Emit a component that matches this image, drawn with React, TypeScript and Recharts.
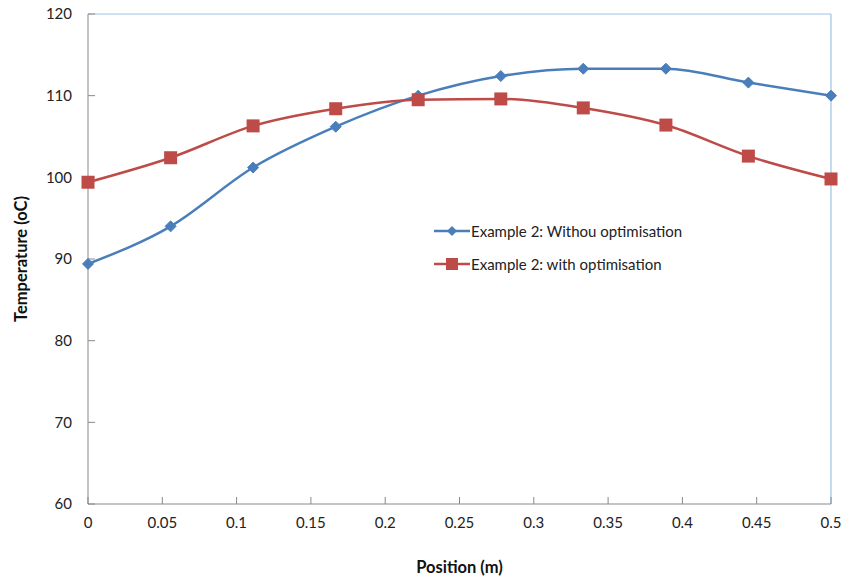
import React from "react";
import {
  LineChart,
  Line,
  XAxis,
  YAxis,
  Legend,
  ReferenceLine,
} from "recharts";

// positions along the bar (m)
const positions = [0, 0.0556, 0.1111, 0.1667, 0.2222, 0.2778, 0.3333, 0.3889, 0.4444, 0.5];
const withoutOpt = [89.4, 94.0, 101.2, 106.2, 110.0, 112.4, 113.3, 113.3, 111.6, 110.0];
const withOpt = [99.4, 102.4, 106.3, 108.4, 109.5, 109.6, 108.5, 106.4, 102.6, 99.8];
const xTicks = [0, 0.05, 0.1, 0.15, 0.2, 0.25, 0.3, 0.35, 0.4, 0.45, 0.5];
const yTicks = [60, 70, 80, 90, 100, 110, 120];

const BLUE = "#4a7ebb";
const RED = "#be4b48";
const FONT = "Lato, 'Open Sans', sans-serif";

const data = positions.map((x, i) => ({ x, a: withoutOpt[i], b: withOpt[i] }));

const Diamond = (props: any) => {
  const { cx, cy } = props;
  if (cx == null || cy == null) return null;
  const r = 5.5;
  return (
    <polygon
      key={`d-${cx}`}
      points={`${cx},${cy - r} ${cx + r},${cy} ${cx},${cy + r} ${cx - r},${cy}`}
      fill={BLUE}
      stroke={BLUE}
    />
  );
};

const Square = (props: any) => {
  const { cx, cy } = props;
  if (cx == null || cy == null) return null;
  const s = 6.5;
  return <rect key={`s-${cx}`} x={cx - s} y={cy - s} width={s * 2} height={s * 2} fill={RED} />;
};

const LegendBox = () => (
  <div style={{ fontFamily: FONT, fontSize: 15, color: "#222" }}>
    {[
      { name: "Example 2: Withou optimisation", color: BLUE, shape: "d" },
      { name: "Example 2: with optimisation", color: RED, shape: "s" },
    ].map((it) => (
      <div key={it.name} style={{ display: "flex", alignItems: "center", height: 33 }}>
        <svg width={36} height={14} style={{ marginRight: 1 }}>
          <line x1={0} y1={7} x2={36} y2={7} stroke={it.color} strokeWidth={2.5} />
          {it.shape === "d" ? (
            <polygon points="18,2 23,7 18,12 13,7" fill={it.color} />
          ) : (
            <rect x={12} y={1} width={12} height={12} fill={it.color} />
          )}
        </svg>
        <span>{it.name}</span>
      </div>
    ))}
  </div>
);

export default function App() {
  return (
    <div style={{ position: "fixed", left: 0, top: 0, background: "#fff", width: 846, height: 582 }}>
      <LineChart
        width={846}
        height={582}
        data={data}
        margin={{ top: 14, right: 15, bottom: 0, left: 0 }}
      >
        <XAxis
          dataKey="x"
          type="number"
          domain={[0, 0.5]}
          ticks={xTicks}
          interval={0}
          tickFormatter={(v: number) => String(Number(v.toFixed(2)))}
          stroke="#898989"
          tick={{ fill: "#222", fontSize: 15, fontFamily: FONT }}
          tickSize={-7}
          tickMargin={20}
          height={78}
          label={{
            value: "Position (m)",
            position: "insideBottom",
            offset: 9,
            style: { fontFamily: FONT, fontSize: 16.5, fontWeight: 700, fill: "#111" },
          }}
        />
        <YAxis
          type="number"
          domain={[60, 120]}
          ticks={yTicks}
          interval={0}
          stroke="#898989"
          tick={{ fill: "#222", fontSize: 15, fontFamily: FONT }}
          tickSize={-7}
          tickMargin={23}
          width={88}
          label={{
            value: "Temperature (oC)",
            angle: -90,
            position: "insideLeft",
            offset: 21,
            style: { textAnchor: "middle", fontFamily: FONT, fontSize: 16.5, fontWeight: 700, fill: "#111" },
          }}
        />
        <ReferenceLine y={120} stroke="#9dc3e6" strokeWidth={1.2} />
        <ReferenceLine x={0.5} stroke="#9dc3e6" strokeWidth={1.2} />
        <Legend
          layout="horizontal"
          verticalAlign="middle"
          align="center"
          content={<LegendBox />}
          wrapperStyle={{ left: 434, top: 214, width: 320 }}
        />
        <Line
          type="monotone"
          dataKey="a"
          name="Example 2: Withou optimisation"
          stroke={BLUE}
          strokeWidth={2.5}
          dot={<Diamond />}
          isAnimationActive={false}
        />
        <Line
          type="monotone"
          dataKey="b"
          name="Example 2: with optimisation"
          stroke={RED}
          strokeWidth={2.5}
          dot={<Square />}
          isAnimationActive={false}
        />
      </LineChart>
    </div>
  );
}
